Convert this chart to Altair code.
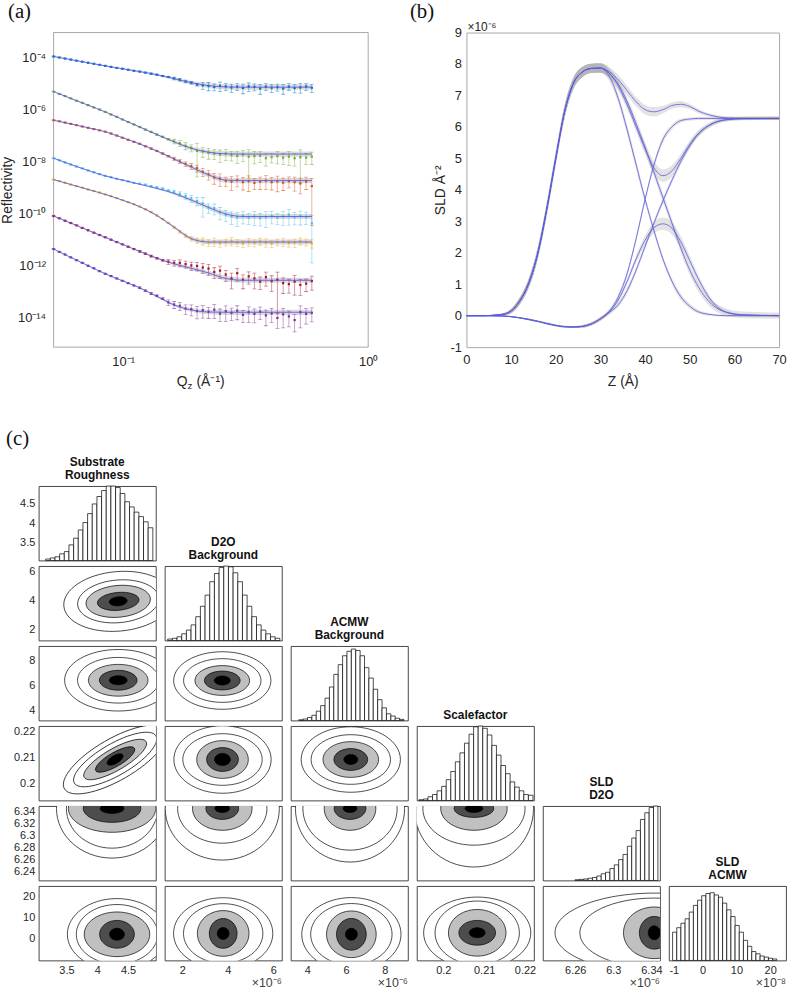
import altair as alt
import pandas as pd

SANS = "Liberation Sans"
SERIF = "Liberation Serif"
INK = "#262626"
FIT_BLUE = "#5a5ae6"
SUP = str.maketrans("-0123456789", "⁻⁰¹²³⁴⁵⁶⁷⁸⁹")
PLAIN_LABEL = "'' + datum.value"


def pow10(e):
    return "10" + str(e).translate(SUP)


def note(text, x, y, size, font=SANS, align="left", color="#111111", weight="normal"):
    """A single piece of annotation text placed in the panel's pixel frame."""
    return alt.Chart(pd.DataFrame({"t": [text]})).mark_text(
        align=align, baseline="alphabetic", fontSize=size, font=font, color=color,
        fontWeight=weight).encode(x=alt.value(x), y=alt.value(y), text="t:N")


# ---------------------------------------------------------------- (a) reflectivity
q_grid = [0.0520, 0.0549, 0.0579, 0.0611, 0.0645, 0.0681, 0.0719, 0.0759, 0.0801, 0.0845,
          0.0892, 0.0941, 0.0993, 0.1048, 0.1106, 0.1168, 0.1232, 0.1301, 0.1373, 0.1449,
          0.1529, 0.1614, 0.1703, 0.1798, 0.1897, 0.2002, 0.2113, 0.2230, 0.2354, 0.2484,
          0.2622, 0.2767, 0.2920, 0.3082, 0.3253, 0.3433, 0.3623, 0.3824, 0.4036, 0.4260,
          0.4496, 0.4745, 0.5008, 0.5285, 0.5578, 0.5887]
fit_q = [0.0520, 0.0611, 0.0719, 0.0845, 0.0993, 0.1168, 0.1373, 0.1614, 0.1897, 0.2230,
         0.2622, 0.3082, 0.3623, 0.4260, 0.5008, 0.5887]
fit_band = [0.01, 0.01, 0.01, 0.01, 0.015, 0.02, 0.03, 0.05, 0.07, 0.09,
            0.10, 0.10, 0.10, 0.10, 0.10, 0.10]

refl_colors = ["#0072BD", "#77AC30", "#D95319", "#4DBEEE", "#EDB120", "#A2142F", "#7E2F8E"]

refl_1 = [-3.97, -4.01, -4.05, -4.09, -4.13, -4.17, -4.21, -4.25, -4.29, -4.33, -4.37, -4.41,
          -4.44, -4.48, -4.52, -4.55, -4.59, -4.63, -4.67, -4.72, -4.76,
          -4.81, -4.86, -4.93, -4.98, -5.05, -5.08, -5.10, -5.14, -5.10, -5.12, -5.16, -5.13,
          -5.18, -5.12, -5.14, -5.20, -5.13, -5.17, -5.15, -5.20, -5.13, -5.18, -5.16, -5.12, -5.17]
refl_1_err = [0.03] * 15 + [0.05] * 6 + [0.12] * 5 + [
    0.3, 0.35, 0.3, 0.4, 0.3, 0.35, 0.3, 0.4, 0.35, 0.3, 0.4, 0.3, 0.35, 0.3, 0.4, 0.3, 0.35, 0.4, 0.3, 0.35]
refl_1_fit = [-3.97, -4.09, -4.21, -4.33, -4.44, -4.55, -4.67, -4.82, -4.98, -5.09, -5.14,
              -5.15, -5.15, -5.15, -5.15, -5.15]

refl_2 = [-5.32, -5.41, -5.49, -5.58, -5.67, -5.75, -5.84, -5.93, -6.01, -6.10, -6.20, -6.29,
          -6.39, -6.49, -6.58, -6.68, -6.78, -6.87, -6.97, -7.06, -7.15,
          -7.23, -7.30, -7.40, -7.48, -7.60, -7.62, -7.66, -7.70, -7.74, -7.70, -7.76, -7.79,
          -7.74, -7.82, -7.80, -7.78, -7.88, -7.84, -7.80, -7.86, -7.82, -7.88, -7.84, -7.86, -7.82]
refl_2_err = [0.03] * 15 + [0.06] * 6 + [
    0.2, 0.25, 0.3, 0.3, 0.9, 0.4, 0.45, 0.4, 0.5, 0.45, 0.4, 0.5, 0.45, 0.85, 0.5, 0.45, 0.5,
    0.4, 0.5, 0.45, 0.55, 0.5, 0.9, 0.45, 0.5]
refl_2_fit = [-5.32, -5.58, -5.84, -6.10, -6.39, -6.68, -6.97, -7.25, -7.50, -7.65, -7.71,
              -7.72, -7.72, -7.72, -7.72, -7.72]

refl_3 = [-6.42, -6.46, -6.51, -6.56, -6.61, -6.66, -6.71, -6.76, -6.81, -6.86, -6.93, -7.01,
          -7.09, -7.17, -7.25, -7.33, -7.42, -7.51, -7.60, -7.70, -7.80,
          -7.90, -8.00, -8.10, -8.18, -8.26, -8.40, -8.50, -8.62, -8.66, -8.75, -8.78, -8.72,
          -8.80, -8.76, -8.83, -8.78, -8.74, -8.80, -8.77, -8.82, -8.76, -8.80, -8.85, -8.78, -8.95]
refl_3_err = [0.03] * 15 + [0.06] * 6 + [
    0.15, 0.18, 0.2, 0.25, 0.3, 0.35, 0.4, 0.45, 0.5, 0.4, 0.55, 0.45, 0.5, 0.6, 0.45, 0.5,
    0.55, 0.5, 0.6, 0.5, 0.45, 0.55, 0.6, 0.5, 0.97]
refl_3_fit = [-6.42, -6.56, -6.71, -6.86, -7.09, -7.33, -7.60, -7.91, -8.22, -8.52, -8.72,
              -8.74, -8.74, -8.74, -8.74, -8.74]

refl_4 = [-7.88, -7.96, -8.04, -8.12, -8.20, -8.27, -8.35, -8.42, -8.49, -8.56, -8.61, -8.67,
          -8.72, -8.77, -8.83,
          -8.86, -8.90, -8.95, -9.00, -9.05, -9.12, -9.17, -9.25, -9.33, -9.42, -9.52, -9.62,
          -9.78, -9.80, -9.95, -10.05, -10.12, -10.15, -10.10, -10.16, -10.12, -10.18, -10.14,
          -10.10, -10.16, -10.12, -10.05, -10.14, -10.10, -10.13, -10.38]
refl_4_err = [0.03] * 15 + [0.06] * 6 + [
    0.15, 0.2, 0.25, 0.3, 0.35, 0.7, 0.4, 0.45, 0.5, 0.45, 0.5, 0.55, 0.5, 0.45, 0.55, 0.5,
    0.6, 0.5, 0.45, 0.55, 0.6, 0.5, 0.55, 0.5, 0.97]
refl_4_fit = [-7.88, -8.12, -8.35, -8.56, -8.72, -8.88, -9.04, -9.23, -9.49, -9.77, -10.02,
              -10.12, -10.12, -10.12, -10.12, -10.12]

refl_5 = [-8.70, -8.76, -8.82, -8.89, -8.95, -9.01, -9.08, -9.14, -9.20, -9.27, -9.34, -9.41,
          -9.49, -9.57, -9.65, -9.74, -9.84, -9.95, -10.08, -10.22, -10.37,
          -10.53, -10.70, -10.85, -10.97, -11.04, -11.06, -11.12, -11.08, -11.14, -11.10, -11.06,
          -11.12, -11.15, -11.09, -11.13, -11.07, -11.11, -11.16, -11.10, -11.08, -11.14, -11.12,
          -11.06, -11.10, -11.15]
refl_5_err = [0.03] * 15 + [0.05] * 6 + [
    0.1, 0.12, 0.15, 0.2, 0.25, 0.3, 0.3, 0.35, 0.3, 0.3, 0.35, 0.3, 0.3, 0.35, 0.3, 0.3,
    0.35, 0.3, 0.3, 0.35, 0.3, 0.35, 0.3, 0.3, 0.35]
refl_5_fit = [-8.70, -8.89, -9.08, -9.27, -9.49, -9.74, -10.08, -10.53, -10.97, -11.10, -11.10,
              -11.10, -11.10, -11.10, -11.10, -11.10]

refl_6 = [-10.10, -10.19, -10.28, -10.37, -10.46, -10.56, -10.65, -10.74, -10.83, -10.92,
          -11.01, -11.10, -11.19, -11.28, -11.37, -11.46, -11.55, -11.64, -11.72, -11.80,
          -11.86, -11.90,
          -11.90, -11.95, -12.00, -12.02, -12.08, -12.12, -12.25, -12.20, -12.35, -12.50, -12.30,
          -12.55, -12.42, -12.50, -12.62, -12.45, -12.60, -12.55, -12.68, -12.72, -12.62, -12.75,
          -12.70, -12.60]
refl_6_err = [0.03] * 15 + [0.08] * 5 + [
    0.2, 0.25, 0.3, 0.3, 0.35, 0.35, 0.4, 0.45, 0.45, 0.5, 0.45, 0.6, 0.5, 0.55, 0.5, 0.6,
    0.5, 0.55, 0.6, 0.95, 0.6, 0.55, 0.7, 0.6, 0.5, 0.55]
refl_6_fit = [-10.10, -10.37, -10.65, -10.92, -11.19, -11.46, -11.72, -11.94, -12.11, -12.29,
              -12.50, -12.57, -12.57, -12.57, -12.57, -12.57]

refl_7 = [-11.37, -11.48, -11.58, -11.69, -11.80, -11.90, -12.01, -12.11, -12.22, -12.32,
          -12.41, -12.50, -12.59, -12.68, -12.77, -12.86, -12.97, -13.08,
          -13.17, -13.28, -13.42, -13.50, -13.55, -13.66, -13.68, -13.75, -13.72, -13.78, -13.70,
          -13.85, -13.76, -13.82, -13.74, -13.90, -13.80, -13.86, -13.78, -13.92, -13.84, -14.02,
          -13.88, -13.96, -14.10, -13.80, -13.86, -13.82]
refl_7_err = [0.03] * 15 + [0.08] * 5 + [
    0.25, 0.3, 0.35, 0.4, 0.45, 0.5, 0.5, 0.45, 0.55, 0.5, 0.6, 0.5, 0.55, 0.5, 0.6, 0.55,
    0.5, 0.6, 0.55, 0.6, 0.7, 0.6, 0.65, 0.75, 0.6, 0.55]
refl_7_fit = [-11.37, -11.69, -12.01, -12.32, -12.59, -12.86, -13.19, -13.52, -13.71, -13.79,
              -13.80, -13.80, -13.80, -13.80, -13.80, -13.80]

refl_series = [
    (refl_1, refl_1_err, refl_1_fit), (refl_2, refl_2_err, refl_2_fit),
    (refl_3, refl_3_err, refl_3_fit), (refl_4, refl_4_err, refl_4_fit),
    (refl_5, refl_5_err, refl_5_fit), (refl_6, refl_6_err, refl_6_fit),
    (refl_7, refl_7_err, refl_7_fit),
]
curve_names = [f"contrast {i + 1}" for i in range(len(refl_series))]

pts_rows, fit_rows = [], []
for name, (logs, errs, fits) in zip(curve_names, refl_series):
    for q, lg, e in zip(q_grid, logs, errs):
        r = 10.0 ** lg
        pts_rows.append({"curve": name, "q": q, "r": r, "lo": r * (1 - e), "hi": r * (1 + e)})
    for q, lg, hw in zip(fit_q, fits, fit_band):
        fit_rows.append({"curve": name, "q": q, "r": 10.0 ** lg,
                         "lo": 10.0 ** (lg - hw), "hi": 10.0 ** (lg + hw)})
pts_df = pd.DataFrame(pts_rows)
fit_df = pd.DataFrame(fit_rows)

# the reflectivity panel keeps a 15 px inset on its left so that its frame starts there
A_W, A_H, A_INSET = 332, 317, 15
y_exps = [-14, -12, -10, -8, -6, -4]
y_label_expr = " : ".join(
    f"abs(log(datum.value) / LN10 - ({e})) < 0.2 ? '{pow10(e)}'" for e in y_exps) + " : ''"

qx = alt.X("q:Q", scale=alt.Scale(type="log", domain=[0.052, 1.0], range=[A_INSET, A_W]),
           axis=alt.Axis(values=[0.1, 1.0], labelExpr="datum.value < 0.5 ? '10⁻¹' : '10⁰'",
                         title=None, labelFontSize=13, labelPadding=8, labelFlush=False))
ry_scale = alt.Scale(type="log", domain=[10 ** -15.14, 10 ** -3.05])
ry_axis = alt.Axis(values=[10.0 ** e for e in y_exps], labelExpr=y_label_expr,
                   title="Reflectivity", titleFontSize=14, titleFontWeight="normal",
                   titlePadding=3, labelFontSize=13, labelPadding=8, offset=-A_INSET,
                   labelOverlap=False)


def ry(field):
    return alt.Y(f"{field}:Q", scale=ry_scale, axis=ry_axis)


curve_color = alt.Color("curve:N", scale=alt.Scale(domain=curve_names, range=refl_colors),
                        legend=None)

a_frame = alt.Chart(pd.DataFrame({"v": [0]})).mark_rect(
    fillOpacity=0, stroke="#a8a8a8", strokeWidth=1).encode(
    x=alt.value(A_INSET), x2=alt.value(A_W), y=alt.value(0), y2=alt.value(A_H))
a_band = alt.Chart(fit_df).mark_area(color="#bdbdbd", opacity=0.55, interpolate="monotone").encode(
    x=qx, y=ry("lo"), y2="hi:Q", detail="curve:N")
a_bars = alt.Chart(pts_df).mark_rule(strokeWidth=0.8, opacity=0.55, clip=True).encode(
    x=qx, y=ry("lo"), y2="hi:Q", color=curve_color)
a_cap_lo = alt.Chart(pts_df).mark_tick(orient="horizontal", size=4, thickness=0.8,
                                       opacity=0.55, clip=True).encode(
    x=qx, y=ry("lo"), color=curve_color)
a_cap_hi = alt.Chart(pts_df).mark_tick(orient="horizontal", size=4, thickness=0.8,
                                       opacity=0.55, clip=True).encode(
    x=qx, y=ry("hi"), color=curve_color)
a_pts = alt.Chart(pts_df).mark_square(size=5, opacity=1).encode(x=qx, y=ry("r"), color=curve_color)
a_fit = alt.Chart(fit_df).mark_line(color=FIT_BLUE, strokeWidth=0.9, interpolate="monotone").encode(
    x=qx, y=ry("r"), detail="curve:N")

panel_a = alt.layer(
    a_frame, a_band, a_bars, a_cap_lo, a_cap_hi, a_pts, a_fit,
    note("(a)", -31, -15, 21, SERIF),
    note("Q", 139, 356, 14, color=INK),
    note("z", 150, 359, 10, color=INK),
    note("(Å⁻¹)", 159, 356, 14, color=INK),
).properties(width=A_W, height=A_H, view=alt.ViewBackground(stroke="transparent"))

# ---------------------------------------------------------------- (b) SLD profiles
rise_z = [0, 4, 8, 10, 12, 14, 16, 18, 20, 22, 24, 26, 28, 30]
rise_sld = [0, 0, 0.04, 0.15, 0.48, 1.05, 2.0, 3.4, 5.0, 6.5, 7.4, 7.75, 7.86, 7.87]
rise_hw = [0, 0.01, 0.03, 0.07, 0.11, 0.15, 0.18, 0.2, 0.2, 0.2, 0.18, 0.16, 0.15, 0.15]
dip_sld = [0, 0, -0.01, -0.03, -0.07, -0.12, -0.18, -0.25, -0.31, -0.35, -0.36, -0.34, -0.26, -0.1]
dip_hw = [0, 0.01, 0.01, 0.02, 0.02, 0.03, 0.03, 0.03, 0.03, 0.03, 0.03, 0.04, 0.05, 0.06]
tail_z = [32, 34, 36, 38, 40, 42, 44, 46, 48, 50, 52, 55, 58, 62, 70]

tail_1 = [7.75, 7.5, 7.15, 6.8, 6.55, 6.48, 6.55, 6.68, 6.72, 6.65, 6.5, 6.36, 6.29, 6.27, 6.27]
tail_1_hw = [0.15, 0.15, 0.15, 0.15, 0.15, 0.15, 0.12, 0.1, 0.1, 0.08, 0.07, 0.05, 0.05, 0.05, 0.05]
tail_2 = [7.7, 7.3, 6.7, 6.0, 5.3, 4.7, 4.45, 4.6, 5.0, 5.45, 5.8, 6.1, 6.23, 6.27, 6.27]
tail_2_hw = [0.15, 0.15, 0.15, 0.15, 0.18, 0.2, 0.2, 0.18, 0.15, 0.12, 0.1, 0.08, 0.06, 0.05, 0.05]
tail_3 = [7.6, 6.9, 5.9, 4.8, 3.7, 2.7, 1.8, 1.1, 0.6, 0.3, 0.12, 0.03, 0.0, 0.0, 0.0]
tail_3_hw = [0.15, 0.15, 0.15, 0.15, 0.12, 0.1, 0.1, 0.1, 0.1, 0.08, 0.06, 0.04, 0.03, 0.03, 0.03]
tail_4 = [7.7, 7.35, 6.8, 6.1, 5.35, 4.55, 3.75, 2.95, 2.15, 1.45, 0.9, 0.35, 0.12, 0.03, 0.0]
tail_4_hw = [0.15, 0.15, 0.15, 0.15, 0.15, 0.15, 0.15, 0.15, 0.15, 0.15, 0.15, 0.13, 0.12, 0.1, 0.1]
tail_5 = [0.15, 0.6, 1.35, 2.45, 3.7, 4.8, 5.6, 6.0, 6.2, 6.25, 6.27, 6.27, 6.27, 6.27, 6.27]
tail_5_hw = [0.06, 0.08, 0.1, 0.1, 0.1, 0.1, 0.1, 0.08, 0.06, 0.05, 0.05, 0.05, 0.05, 0.05, 0.05]
tail_6 = [0.1, 0.35, 0.8, 1.45, 2.2, 2.95, 3.65, 4.3, 4.9, 5.4, 5.78, 6.1, 6.22, 6.26, 6.27]
tail_6_hw = [0.06, 0.08, 0.1, 0.1, 0.1, 0.1, 0.1, 0.1, 0.1, 0.1, 0.08, 0.06, 0.05, 0.05, 0.05]
tail_7 = [0.12, 0.5, 1.1, 1.8, 2.4, 2.8, 2.92, 2.78, 2.35, 1.75, 1.15, 0.45, 0.12, 0.02, 0.0]
tail_7_hw = [0.05, 0.08, 0.1, 0.12, 0.15, 0.18, 0.2, 0.2, 0.18, 0.15, 0.12, 0.08, 0.05, 0.03, 0.03]

profiles = [
    (rise_sld, rise_hw, tail_1, tail_1_hw), (rise_sld, rise_hw, tail_2, tail_2_hw),
    (rise_sld, rise_hw, tail_3, tail_3_hw), (rise_sld, rise_hw, tail_4, tail_4_hw),
    (dip_sld, dip_hw, tail_5, tail_5_hw), (dip_sld, dip_hw, tail_6, tail_6_hw),
    (dip_sld, dip_hw, tail_7, tail_7_hw),
]
prof_rows = []
for k, (head, head_hw, tail, tail_hw) in enumerate(profiles):
    for z, s, hw in zip(rise_z + tail_z, head + tail, head_hw + tail_hw):
        prof_rows.append({"profile": f"profile {k + 1}", "z": z, "sld": s,
                          "lo": s - hw, "hi": s + hw})
prof_df = pd.DataFrame(prof_rows)

zx = alt.X("z:Q", scale=alt.Scale(domain=[0, 70], nice=False),
           axis=alt.Axis(values=list(range(0, 71, 10)), title="Z (Å)", titleFontSize=14,
                         titleFontWeight="normal", titlePadding=9, labelFontSize=13,
                         labelPadding=6, labelFlush=False, labelOverlap=False))
sld_scale = alt.Scale(domain=[-1, 9], nice=False)
sld_axis = alt.Axis(values=list(range(-1, 10)), labelExpr=PLAIN_LABEL, labelOverlap=False,
                    title="SLD Å⁻²", titleFontSize=14, titleFontWeight="normal",
                    titlePadding=3, labelFontSize=13, labelPadding=5)


def sy(field):
    return alt.Y(f"{field}:Q", scale=sld_scale, axis=sld_axis)


b_band = alt.Chart(prof_df).mark_area(color="#9a9a9a", opacity=0.28, interpolate="monotone").encode(
    x=zx, y=sy("lo"), y2="hi:Q", detail="profile:N")
b_line = alt.Chart(prof_df).mark_line(color=FIT_BLUE, strokeWidth=0.8, interpolate="monotone").encode(
    x=zx, y=sy("sld"), detail="profile:N")
panel_b = alt.layer(
    b_band, b_line,
    note("(b)", -57, -15, 21, SERIF),
    note("×10⁻⁶", 1, -2, 12, color=INK),
).properties(width=315, height=317, view=alt.ViewBackground(stroke="#a8a8a8", strokeWidth=1))

top_row = alt.hconcat(panel_a, panel_b, spacing=99, bounds="flush")

# ---------------------------------------------------------------- (c) posterior corner plot
param_titles = {1: ["Substrate", "Roughness"], 2: ["D2O", "Background"],
                3: ["ACMW", "Background"], 4: ["Scalefactor"], 5: ["SLD", "D2O"],
                6: ["SLD", "ACMW"]}
param_domain = {1: [3.05, 4.95], 2: [1.23, 6.38], 3: [3.15, 9.2], 4: [0.1935, 0.2222],
                5: [6.226, 6.349], 6: [-10.0, 24.7]}
param_xticks = {1: [3.5, 4, 4.5], 2: [2, 4, 6], 3: [4, 6, 8], 4: [0.2, 0.21, 0.22],
                5: [6.26, 6.3, 6.34], 6: [-10, 0, 10, 20]}
param_yticks = {1: [3.5, 4, 4.5], 2: [2, 4, 6], 3: [4, 6, 8], 4: [0.2, 0.21, 0.22],
                5: [6.24, 6.26, 6.28, 6.3, 6.32, 6.34], 6: [0, 10, 20]}
param_exponent = {2: "×10⁻⁶", 3: "×10⁻⁶", 5: "×10⁻⁶", 6: "×10⁻⁸"}

# histogram bins: (first edge, bin width) and bar heights relative to the tallest bin
hist_bins = {1: (3.163, 0.0756), 2: (1.36, 0.2055), 3: (3.56, 0.2266), 4: (0.19399, 0.001119),
             5: (6.2598, 0.00458), 6: (-8.91, 1.235)}
hist_1 = [0.02, 0.035, 0.05, 0.09, 0.12, 0.21, 0.30, 0.41, 0.51, 0.63, 0.76, 0.86, 0.94, 1.0,
          1.0, 0.98, 0.90, 0.79, 0.72, 0.65, 0.59, 0.52, 0.44]
hist_2 = [0.02, 0.03, 0.05, 0.09, 0.14, 0.21, 0.32, 0.46, 0.61, 0.79, 0.90, 0.98, 1.0, 0.99,
          0.91, 0.79, 0.61, 0.46, 0.32, 0.21, 0.14, 0.09, 0.05, 0.03]
hist_3 = [0.01, 0.02, 0.04, 0.07, 0.125, 0.2, 0.3, 0.45, 0.62, 0.75, 0.87, 0.93, 0.96, 0.94,
          0.87, 0.71, 0.57, 0.42, 0.28, 0.17, 0.09, 0.06, 0.03, 0.015]
hist_4 = [0.01, 0.02, 0.05, 0.08, 0.13, 0.19, 0.28, 0.39, 0.52, 0.64, 0.77, 0.89, 0.99, 1.0,
          0.97, 0.88, 0.74, 0.61, 0.47, 0.36, 0.25, 0.18, 0.13, 0.08, 0.07]
hist_5 = [0.01, 0.015, 0.02, 0.03, 0.04, 0.06, 0.09, 0.11, 0.16, 0.21, 0.28, 0.35, 0.46, 0.57,
          0.67, 0.82, 0.91, 0.98, 1.0]
hist_6 = [0.38, 0.44, 0.50, 0.56, 0.65, 0.74, 0.81, 0.87, 0.90, 0.91, 0.88, 0.85, 0.77, 0.68,
          0.59, 0.47, 0.38, 0.27, 0.19, 0.12, 0.09, 0.06, 0.045, 0.03, 0.02]
hist_heights = {1: hist_1, 2: hist_2, 3: hist_3, 4: hist_4, 5: hist_5, 6: hist_6}

# credible-region contours of each 2-D marginal: centre (x, y), tilt in degrees and the
# on-screen width / height in pixels of each level, outermost first
contour_levels = {
    (2, 1): dict(cx=4.34, cy=3.94, ang=355, W=[110, 82, 65, 42, 18], H=[60, 43, 32, 18, 9]),
    (3, 1): dict(cx=4.34, cy=6.42, ang=0, W=[108, 82, 60, 38, 18], H=[62, 46, 32, 20, 9]),
    (3, 2): dict(cx=3.76, cy=6.40, ang=0, W=[98, 78, 55, 36, 16], H=[58, 44, 30, 19, 9]),
    (4, 1): dict(cx=4.29, cy=0.2093, ang=330, W=[118, 95, 72, 45, 18], H=[42, 32, 22, 14, 8]),
    (4, 2): dict(cx=3.77, cy=0.2093, ang=0, W=[98, 80, 52, 32, 16], H=[68, 52, 38, 24, 12]),
    (4, 3): dict(cx=6.25, cy=0.2093, ang=0, W=[100, 80, 56, 34, 14], H=[66, 50, 36, 22, 10]),
    (5, 1): dict(cx=4.24, cy=6.345, ang=0, W=[112, 92, 88, 58, 24], H=[100, 80, 48, 28, 10]),
    (5, 2): dict(cx=3.76, cy=6.345, ang=0, W=[115, 90, 60, 33, 15], H=[104, 70, 44, 22, 8]),
    (5, 3): dict(cx=6.21, cy=6.345, ang=0, W=[110, 95, 52, 32, 14], H=[108, 84, 44, 22, 8]),
    (5, 4): dict(cx=0.2075, cy=6.345, ang=0, W=[120, 103, 67, 40, 18], H=[118, 74, 44, 18, 8]),
    (6, 1): dict(cx=4.32, cy=2.2, ang=0, W=[100, 82, 66, 35, 15], H=[72, 60, 45, 28, 12]),
    (6, 2): dict(cx=3.80, cy=2.6, ang=0, W=[100, 80, 52, 28, 12], H=[72, 60, 46, 30, 12]),
    (6, 3): dict(cx=6.28, cy=2.2, ang=0, W=[100, 82, 50, 30, 12], H=[74, 62, 47, 32, 12]),
    (6, 4): dict(cx=0.2083, cy=2.9, ang=0, W=[108, 85, 58, 37, 16], H=[72, 64, 47, 25, 10]),
    (6, 5): dict(cx=6.343, cy=2.9, ang=0, W=[200, 150, 62, 30, 12], H=[80, 70, 52, 33, 14]),
}
level_fills = ["#ffffff", "#ffffff", "#c0c0c0", "#4d4d4d", "#000000"]

CELL_W, CELL_H = 118, 75


def ellipse_path(aspect):
    k = 0.5523
    a, ka = aspect, k * aspect
    return (f"M -1 0 C -1 {-ka:.4f} {-k} {-a:.4f} 0 {-a:.4f} C {k} {-a:.4f} 1 {-ka:.4f} 1 0 "
            f"C 1 {ka:.4f} {k} {a:.4f} 0 {a:.4f} C {-k} {a:.4f} -1 {ka:.4f} -1 0 Z")


def x_axis(c):
    expr = "datum.value == -10 ? '-1' : datum.label" if c == 6 else PLAIN_LABEL
    return alt.Axis(values=param_xticks[c], labelExpr=expr, title=None, labelFontSize=11,
                    labelPadding=4, labelFlush=(c == 6), labelOverlap=False)


def y_axis(r):
    return alt.Axis(values=param_yticks[r], labelExpr=PLAIN_LABEL, title=None, labelFontSize=11,
                    labelPadding=4, labelFlush=False, labelOverlap=False, orient="left")


def exponent_layer(c):
    return note(param_exponent[c], CELL_W, CELL_H + 27, 12.5, align="right", color="#404040")


def title_layers(k):
    lines = param_titles[k]
    baselines = [-20, -7] if len(lines) == 2 else [-7]
    return [note(t, CELL_W / 2, y, 12, align="center", weight="bold")
            for t, y in zip(lines, baselines)]


def contour_cell(r, c):
    spec = contour_levels[(r, c)]
    recs = []
    for lvl, (w, h) in enumerate(zip(spec["W"], spec["H"])):
        recs.append({"x": spec["cx"], "y": spec["cy"], "lvl": lvl, "size": w * w,
                     "shape": ellipse_path(h / w), "angle": spec["ang"]})
    blobs = alt.Chart(pd.DataFrame(recs)).mark_point(
        filled=True, clip=True, stroke="black", strokeWidth=0.7, opacity=1,
        fillOpacity=1, strokeOpacity=1).encode(
        x=alt.X("x:Q", scale=alt.Scale(domain=param_domain[c], nice=False, zero=False),
                axis=x_axis(c) if r == 6 else None),
        y=alt.Y("y:Q", scale=alt.Scale(domain=param_domain[r], nice=False, zero=False),
                axis=y_axis(r) if c == 1 else None),
        fill=alt.Fill("lvl:O", scale=alt.Scale(domain=[0, 1, 2, 3, 4], range=level_fills),
                      legend=None),
        size=alt.Size("size:Q", scale=None),
        shape=alt.Shape("shape:N", scale=None),
        angle=alt.Angle("angle:Q", scale=None),
        order=alt.Order("lvl:Q"),
    )
    layers = [blobs]
    if r == 6 and c in param_exponent:
        layers.append(exponent_layer(c))
    return alt.layer(*layers).properties(width=CELL_W, height=CELL_H)


def hist_cell(k):
    start, width = hist_bins[k]
    heights = hist_heights[k]
    df = pd.DataFrame({"x": [start + i * width for i in range(len(heights))],
                       "x2": [start + (i + 1) * width for i in range(len(heights))],
                       "h": heights, "base": [0.0] * len(heights)})
    bars = alt.Chart(df).mark_rect(fill="white", stroke="black", strokeWidth=0.7).encode(
        x=alt.X("x:Q", scale=alt.Scale(domain=param_domain[k], nice=False, zero=False),
                axis=x_axis(k) if k == 6 else None),
        x2="x2:Q",
        y=alt.Y("h:Q", scale=alt.Scale(domain=[0, 1], nice=False), axis=None),
        y2="base:Q",
    )
    layers = [bars] + title_layers(k)
    if k == 1:
        ghost = alt.Chart(pd.DataFrame({"v": [4.0]})).mark_point(opacity=0).encode(
            y=alt.Y("v:Q", scale=alt.Scale(domain=param_domain[1], nice=False, zero=False),
                    axis=y_axis(1)))
        layers += [ghost, note("(c)", -33, -41, 21, SERIF)]
    if k == 6:
        layers.append(exponent_layer(6))
    chart = alt.layer(*layers)
    if k == 1:
        chart = chart.resolve_scale(y="independent")
    return chart.properties(width=CELL_W, height=CELL_H)


def blank_cell():
    return alt.Chart(pd.DataFrame({"v": [0]})).mark_point(opacity=0).encode(
        x=alt.X("v:Q", axis=None), y=alt.Y("v:Q", axis=None)).properties(
        width=CELL_W, height=CELL_H, view=alt.ViewBackground(stroke="transparent"))


cells = []
for r in range(1, 7):
    for c in range(1, 7):
        if c < r:
            cells.append(contour_cell(r, c))
        elif c == r:
            cells.append(hist_cell(r))
        else:
            cells.append(blank_cell())

corner = alt.concat(*cells, columns=6, spacing=alt.RowColnumber(row=5.6, column=9),
                    bounds="flush")

chart = alt.vconcat(top_row, corner, spacing=36).properties(
    padding={"left": 0, "top": -4, "right": 0, "bottom": 0}
).configure(font=SANS).configure_view(stroke="#333333", strokeWidth=0.9).configure_axis(
    labelFont=SANS, titleFont=SANS, labelColor=INK, titleColor=INK, grid=False,
    domain=False, ticks=False)

chart.save("out.html", embed_options={"renderer": "svg", "actions": False})
